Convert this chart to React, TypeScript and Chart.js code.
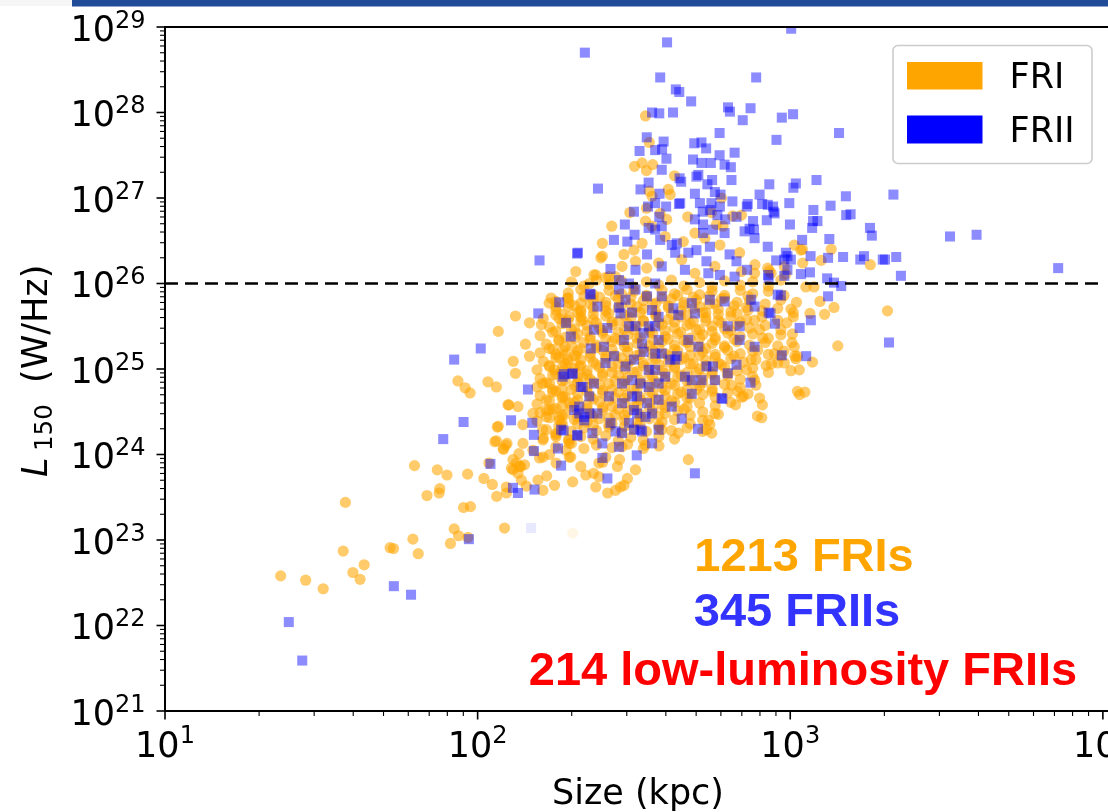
import React, { useEffect, useRef } from "react";
import { Chart, registerables } from "chart.js";

Chart.register(...registerables);

const WIDTH = 1108;
const HEIGHT = 812;

const xTickExponents = [1, 2, 3, 4];
const yTickExponents = [21, 22, 23, 24, 25, 26, 27, 28, 29];
const xAxisTitle = "Size (kpc)";
const yAxisTitleMain = "L";
const yAxisTitleSub = "150";
const yAxisTitleUnit = "(W/Hz)";
const legendLabels = ["FRI", "FRII"];
const countLabels = ["1213 FRIs", "345 FRIIs", "214 low-luminosity FRIIs"];
const thresholdL = 1e26;

// all points: [log10(size / kpc), log10(L150 / W Hz^-1)]
const friTailLog: [number, number][] = [
  [1.577,23.44],[1.370,22.58],[1.450,22.53],[1.506,22.43],[1.570,22.87],[1.601,22.62],[1.624,22.54],[1.637,22.71],
  [1.720,22.91],[1.731,22.90],[1.793,23.01],[1.810,22.84],[1.798,23.87],[1.871,23.82],[1.902,23.76],[1.838,23.52],
  [1.879,23.60],[1.877,23.55],[1.968,23.77],[1.955,23.38],[1.977,23.39],[1.925,23.13],[1.939,23.05],[1.913,22.96],
  [1.969,23.03],[2.086,23.14],[2.020,23.72],[2.047,23.65],[2.061,23.51],[2.092,23.62],[2.092,23.55],[2.113,23.82],
  [2.138,23.86],[2.108,23.84],[2.156,23.63],[2.193,23.70],[2.209,23.58],[2.221,23.75],[2.246,23.64],[2.036,23.90],
  [2.082,24.07],[2.094,24.13],[2.055,24.15],[2.063,24.32],[2.132,24.01],[2.145,24.13],[2.113,23.94],[2.134,23.86],
  [2.100,24.58],[2.129,24.56],[2.145,24.35],[2.177,24.48],[2.219,24.52],[2.209,24.17],[2.230,24.00],[2.198,23.96],
  [2.251,24.25],[2.283,24.05],[2.298,23.97],[2.261,24.40],[2.293,24.17],
  [1.937,24.86],[1.960,24.78],[1.976,24.72],[2.033,24.85],[2.060,24.79],[2.097,24.58],[2.066,24.33],[2.060,24.16],
  [2.090,24.11],[2.083,24.06],[2.129,23.78],[2.150,23.88],[2.124,23.90],[2.140,23.70],
  [2.121,25.62],[2.166,25.54],[2.204,25.52],[2.066,25.44],[2.153,25.29],[2.166,25.15],[2.114,25.09],[2.121,24.95],
  [2.208,24.83],[2.240,24.76],[2.272,24.68],[2.293,24.60],[2.229,24.52],[2.261,24.44],[2.208,24.29],[2.251,24.21],
  [2.293,24.13],[2.177,24.05],[2.209,23.97],[2.251,23.90],[2.293,23.97],[2.229,25.77],[2.293,25.77],[2.330,25.69],
  [2.293,25.61],[2.261,25.59],[2.336,25.57],[2.378,26.10],[2.357,26.00],[2.394,26.30],[2.420,26.08],[2.251,25.17],
  [2.272,25.22],[2.288,25.11],[2.245,24.99],[2.272,25.03],[2.314,25.15],[2.325,25.03],[2.336,24.91],[2.235,25.83],
  [2.251,25.73],[2.288,25.83],
];

const friUpperLog: [number, number][] = [
  [2.537,27.96],[2.549,27.65],[2.502,27.37],[2.526,27.41],[2.540,27.32],[2.560,27.39],[2.630,27.26],[2.610,27.10],
  [2.616,27.04],[2.549,27.08],[2.558,27.02],[2.487,26.83],[2.540,26.88],[2.537,26.73],[2.584,26.82],[2.429,26.67],
  [2.672,26.78],[2.780,27.00],[2.748,26.83],[2.816,26.79],[2.844,26.80],[2.785,26.67],[2.605,26.75],
  [2.399,26.47],[2.399,26.32],[2.468,26.34],[2.500,26.39],[2.526,26.47],[2.600,26.55],[2.558,26.67],[2.727,26.53],
  [2.764,26.69],[2.838,26.36],[2.775,26.45],[2.695,26.59],[2.658,26.49],[2.541,26.18],[2.505,26.26],[2.462,26.20],
  [2.441,26.08],[2.372,26.10],[2.409,26.07],[2.314,26.14],[2.579,26.24],[2.653,26.28],[2.695,26.12],[2.759,26.20],
  [2.844,26.14],[2.887,26.22],[2.928,26.18],[2.939,26.12],[3.013,26.45],[3.034,26.39],[2.981,26.20],
];

const friRightLog: [number, number][] = [
  [3.039,26.40],[3.131,26.40],[3.099,26.27],[3.040,26.24],[3.256,26.22],[2.886,26.12],[2.933,26.15],[2.986,26.11],
  [3.050,25.96],[3.076,25.96],[3.095,25.79],[3.140,25.72],[3.110,25.64],[3.063,25.65],[3.002,25.70],[3.311,25.68],
  [2.989,25.54],[3.007,25.41],[3.005,25.31],[3.152,25.27],[2.949,25.18],[2.960,25.07],[2.923,25.04],[3.015,25.15],
  [3.018,25.12],[3.071,25.08],[3.029,24.99],[3.002,24.98],[3.030,24.70],[3.047,24.73],[2.902,24.66],[2.865,25.85],
  [2.865,25.69],[2.886,25.57],[2.902,25.46],[2.912,25.36],[2.896,25.22],[2.875,25.11],[2.860,24.99],[2.886,24.87],
  [2.911,24.58],[2.825,24.58],[2.895,24.45],[2.743,24.35],[2.749,24.25],[2.832,24.74],[2.457,23.62],[2.416,23.55],
  [2.479,23.72],[2.400,23.91],[2.371,23.78],[2.454,23.94],[2.505,23.82],[2.674,23.94],[2.388,23.90],[2.330,23.86],
  [2.388,23.74],[2.447,23.86],[2.468,23.64],[2.378,23.62],[2.441,23.58],[2.304,23.68],[2.346,23.76],[2.909,24.43],
  [2.865,24.71],[2.844,24.67],[2.812,24.81],[2.759,24.48],[2.738,24.40],[2.732,24.29],[2.642,24.25],[2.589,24.29],
  [2.536,24.11],[2.462,24.09],[2.410,23.97],[3.023,25.15],[3.013,25.26],[2.970,25.15],[2.981,25.07],[3.023,24.74],
];

const friCoreLog: [number, number][] = [
  [2.30,26.02],[2.34,25.97],[2.38,26.04],[2.42,25.99],[2.46,26.03],[2.50,25.96],[2.54,26.02],[2.58,25.98],[2.62,26.04],[2.66,25.97],[2.71,26.01],[2.75,25.96],[2.79,26.03],[2.84,25.98],[2.88,26.02],[2.93,25.97],[2.97,26.04],
  [2.29,25.89],[2.33,25.93],[2.37,25.87],[2.42,25.92],[2.46,25.88],[2.50,25.91],[2.54,25.86],[2.59,25.92],[2.63,25.88],[2.67,25.93],[2.71,25.87],[2.75,25.91],[2.79,25.86],[2.84,25.92],[2.88,25.88],[2.93,25.91],[2.98,25.86],
  [2.25,25.79],[2.29,25.83],[2.33,25.77],[2.37,25.81],[2.41,25.78],[2.45,25.82],[2.49,25.76],[2.53,25.80],[2.57,25.77],[2.62,25.82],[2.66,25.78],[2.70,25.81],[2.74,25.76],[2.78,25.82],[2.83,25.78],[2.87,25.80],[2.92,25.76],[2.97,25.81],[3.02,25.78],
  [2.25,25.69],[2.29,25.73],[2.33,25.67],[2.37,25.71],[2.41,25.68],[2.45,25.72],[2.49,25.66],[2.53,25.70],[2.57,25.67],[2.61,25.72],[2.65,25.68],[2.69,25.71],[2.73,25.66],[2.77,25.70],[2.81,25.67],[2.86,25.72],[2.91,25.68],[2.96,25.71],[3.01,25.66],
  [2.21,25.59],[2.25,25.63],[2.29,25.57],[2.33,25.61],[2.37,25.58],[2.41,25.62],[2.45,25.56],[2.49,25.60],[2.53,25.57],[2.57,25.62],[2.61,25.58],[2.65,25.61],[2.69,25.56],[2.73,25.60],[2.77,25.57],[2.81,25.62],[2.86,25.58],[2.91,25.61],[2.96,25.57],[3.01,25.61],
  [2.23,25.49],[2.27,25.53],[2.31,25.47],[2.35,25.51],[2.39,25.48],[2.43,25.52],[2.47,25.46],[2.51,25.50],[2.55,25.47],[2.59,25.52],[2.63,25.48],[2.67,25.51],[2.71,25.46],[2.75,25.50],[2.79,25.47],[2.83,25.52],[2.87,25.48],[2.92,25.51],[2.97,25.46],
  [2.20,25.39],[2.24,25.43],[2.28,25.37],[2.32,25.41],[2.36,25.38],[2.40,25.42],[2.44,25.36],[2.48,25.40],[2.52,25.37],[2.56,25.42],[2.60,25.38],[2.64,25.41],[2.68,25.36],[2.72,25.40],[2.76,25.37],[2.80,25.42],[2.84,25.38],[2.88,25.41],[2.93,25.36],[2.97,25.40],
  [2.22,25.29],[2.26,25.33],[2.30,25.27],[2.34,25.31],[2.38,25.28],[2.43,25.32],[2.47,25.26],[2.51,25.30],[2.55,25.27],[2.59,25.32],[2.63,25.28],[2.67,25.31],[2.71,25.26],[2.75,25.30],[2.79,25.27],[2.83,25.32],[2.87,25.28],[2.92,25.31],[2.96,25.27],
  [2.20,25.19],[2.24,25.23],[2.28,25.17],[2.32,25.21],[2.36,25.18],[2.40,25.22],[2.44,25.16],[2.48,25.20],[2.52,25.17],[2.56,25.22],[2.60,25.18],[2.64,25.21],[2.68,25.16],[2.72,25.20],[2.76,25.17],[2.80,25.22],[2.84,25.18],[2.88,25.21],[2.93,25.17],[2.98,25.21],
  [2.21,25.09],[2.25,25.13],[2.29,25.07],[2.33,25.11],[2.37,25.08],[2.41,25.12],[2.45,25.06],[2.49,25.10],[2.53,25.07],[2.57,25.12],[2.61,25.08],[2.65,25.11],[2.69,25.06],[2.73,25.10],[2.77,25.07],[2.81,25.12],[2.85,25.08],[2.89,25.11],[2.94,25.06],
  [2.19,24.99],[2.23,25.03],[2.27,24.97],[2.31,25.01],[2.35,24.98],[2.39,25.02],[2.43,24.96],[2.47,25.00],[2.51,24.97],[2.55,25.02],[2.59,24.98],[2.63,25.01],[2.67,24.96],[2.71,25.00],[2.75,24.97],[2.79,25.02],[2.83,24.98],[2.88,25.01],[2.93,24.96],
  [2.20,24.89],[2.24,24.93],[2.28,24.87],[2.32,24.91],[2.36,24.88],[2.40,24.92],[2.44,24.86],[2.48,24.90],[2.52,24.87],[2.56,24.92],[2.60,24.88],[2.64,24.91],[2.68,24.86],[2.72,24.90],[2.76,24.87],[2.80,24.92],[2.84,24.88],[2.88,24.91],
  [2.19,24.79],[2.23,24.83],[2.27,24.77],[2.31,24.81],[2.35,24.78],[2.39,24.82],[2.43,24.76],[2.47,24.80],[2.51,24.77],[2.55,24.82],[2.59,24.78],[2.63,24.81],[2.67,24.76],[2.71,24.80],[2.75,24.77],[2.79,24.82],[2.84,24.78],[2.89,24.81],
  [2.20,24.69],[2.24,24.73],[2.28,24.67],[2.32,24.71],[2.36,24.68],[2.40,24.72],[2.44,24.66],[2.48,24.70],[2.52,24.67],[2.56,24.72],[2.60,24.68],[2.64,24.71],[2.68,24.66],[2.72,24.70],[2.76,24.67],[2.80,24.72],[2.85,24.68],
  [2.19,24.59],[2.23,24.63],[2.27,24.57],[2.31,24.61],[2.35,24.58],[2.39,24.62],[2.43,24.56],[2.47,24.60],[2.51,24.57],[2.55,24.62],[2.59,24.58],[2.63,24.61],[2.67,24.56],[2.71,24.60],[2.76,24.57],[2.81,24.61],
  [2.20,24.49],[2.24,24.53],[2.28,24.47],[2.32,24.51],[2.36,24.48],[2.40,24.52],[2.44,24.46],[2.48,24.50],[2.52,24.47],[2.56,24.52],[2.60,24.48],[2.64,24.51],[2.68,24.46],[2.72,24.50],[2.77,24.47],
  [2.19,24.39],[2.23,24.43],[2.27,24.37],[2.31,24.41],[2.35,24.38],[2.39,24.42],[2.43,24.36],[2.47,24.40],[2.51,24.37],[2.55,24.42],[2.59,24.38],[2.63,24.41],[2.68,24.36],[2.72,24.40],
  [2.22,24.29],[2.26,24.33],[2.30,24.27],[2.34,24.31],[2.38,24.28],[2.42,24.32],[2.46,24.26],[2.50,24.30],[2.54,24.27],[2.58,24.32],[2.62,24.28],[2.67,24.31],[2.72,24.27],
  [2.21,24.19],[2.25,24.23],[2.29,24.17],[2.33,24.21],[2.37,24.18],[2.41,24.22],[2.45,24.16],[2.49,24.20],[2.53,24.17],[2.58,24.21],[2.63,24.18],
  [2.25,24.09],[2.30,24.13],[2.34,24.07],[2.38,24.11],[2.43,24.08],[2.48,24.12],[2.53,24.07],[2.58,24.10],
];

const friDenseLog: [number, number][] = [
  [2.34,25.85],[2.39,25.84],[2.44,25.86],[2.49,25.84],[2.54,25.85],[2.59,25.83],[2.64,25.86],[2.69,25.84],[2.74,25.85],[2.79,25.83],
  [2.31,25.74],[2.36,25.76],[2.41,25.74],[2.46,25.75],[2.51,25.73],[2.56,25.76],[2.61,25.74],[2.66,25.75],[2.71,25.73],[2.76,25.76],[2.82,25.74],
  [2.27,25.64],[2.32,25.66],[2.37,25.64],[2.42,25.65],[2.47,25.63],[2.52,25.66],[2.57,25.64],[2.62,25.65],[2.67,25.63],[2.72,25.66],[2.77,25.64],[2.83,25.65],
  [2.28,25.54],[2.33,25.56],[2.38,25.54],[2.43,25.55],[2.48,25.53],[2.53,25.56],[2.58,25.54],[2.63,25.55],[2.68,25.53],[2.73,25.56],[2.78,25.54],[2.84,25.55],
  [2.25,25.44],[2.30,25.46],[2.35,25.44],[2.40,25.45],[2.45,25.43],[2.50,25.46],[2.55,25.44],[2.60,25.45],[2.65,25.43],[2.70,25.46],[2.75,25.44],[2.81,25.45],
  [2.26,25.34],[2.31,25.36],[2.36,25.34],[2.41,25.35],[2.46,25.33],[2.51,25.36],[2.56,25.34],[2.61,25.35],[2.66,25.33],[2.71,25.36],[2.76,25.34],[2.82,25.35],
  [2.23,25.24],[2.28,25.26],[2.33,25.24],[2.38,25.25],[2.43,25.23],[2.48,25.26],[2.53,25.24],[2.58,25.25],[2.63,25.23],[2.68,25.26],[2.73,25.24],[2.79,25.25],
  [2.26,25.14],[2.31,25.16],[2.36,25.14],[2.41,25.15],[2.46,25.13],[2.51,25.16],[2.56,25.14],[2.61,25.15],[2.66,25.13],[2.71,25.16],[2.76,25.14],[2.82,25.15],
  [2.23,25.04],[2.28,25.06],[2.33,25.04],[2.38,25.05],[2.43,25.03],[2.48,25.06],[2.53,25.04],[2.58,25.05],[2.63,25.03],[2.68,25.06],[2.73,25.04],[2.78,25.05],
  [2.25,24.94],[2.30,24.96],[2.35,24.94],[2.40,24.95],[2.45,24.93],[2.50,24.96],[2.55,24.94],[2.60,24.95],[2.65,24.93],[2.70,24.96],[2.75,24.94],[2.80,24.95],
  [2.22,24.84],[2.27,24.86],[2.32,24.84],[2.37,24.85],[2.42,24.83],[2.47,24.86],[2.52,24.84],[2.57,24.85],[2.62,24.83],[2.67,24.86],[2.72,24.84],
  [2.25,24.74],[2.30,24.76],[2.35,24.74],[2.40,24.75],[2.45,24.73],[2.50,24.76],[2.55,24.74],[2.60,24.75],[2.65,24.73],[2.70,24.76],[2.75,24.74],
  [2.22,24.64],[2.27,24.66],[2.32,24.64],[2.37,24.65],[2.42,24.63],[2.47,24.66],[2.52,24.64],[2.57,24.65],[2.62,24.63],[2.67,24.66],
  [2.25,24.54],[2.30,24.56],[2.35,24.54],[2.40,24.55],[2.45,24.53],[2.50,24.56],[2.55,24.54],[2.60,24.55],[2.66,24.53],
  [2.22,24.44],[2.27,24.46],[2.32,24.44],[2.37,24.45],[2.42,24.43],[2.47,24.46],[2.52,24.44],[2.58,24.45],
  [2.27,24.34],[2.32,24.36],[2.37,24.34],[2.42,24.35],[2.47,24.33],[2.52,24.36],[2.58,24.34],
];

const friiOuterLog: [number, number][] = [
  [2.343,28.70],[2.606,28.82],[3.003,28.98],[2.584,28.41],[2.891,28.41],[2.634,28.27],[2.645,28.24],[2.683,28.13],
  [2.558,28.00],[2.581,27.99],[2.625,28.00],[2.801,28.06],[2.807,28.01],[2.873,28.05],[2.848,27.91],[2.973,27.94],
  [3.009,27.98],[2.956,27.68],[2.774,27.76],[2.541,27.71],[2.595,27.66],[2.693,27.64],[2.716,27.65],[2.731,27.58],
  [2.518,27.55],[2.568,27.56],[2.590,27.57],[2.604,27.46],[2.774,27.50],[2.822,27.53],[2.689,27.45],[2.716,27.41],
  [2.746,27.41],[2.790,27.39],[2.810,27.36],[2.589,27.33],[2.385,27.11],[2.700,27.25],[2.706,27.27],[2.646,27.23],
  [2.651,27.19],[2.750,27.21],[2.735,27.16],[2.812,27.21],[2.933,27.16],[3.018,27.17],[3.084,27.21],[2.521,27.10],
  [2.547,27.18],[2.695,27.05],[2.759,27.07],[2.777,27.04],[2.582,27.05],[2.815,26.96],[2.902,27.04],[2.928,26.92],
  [2.945,26.90],[2.997,26.94],[3.074,26.86],[3.129,26.91],[2.500,26.84],[2.471,26.69],[2.648,26.94],[2.711,26.94],
  [2.720,26.84],[2.743,26.86],[2.775,26.90],[2.767,26.80],[2.864,26.93],[2.861,26.90],[2.910,26.93],[2.947,26.84],
  [2.603,26.90],[3.073,26.73],[3.087,26.73],[2.881,26.73],[2.925,26.74],[2.999,26.69],[3.156,27.76],[3.511,26.55],
  [3.010,27.12],[2.950,26.82],[3.178,27.02],[3.330,27.04],[3.179,26.80],[3.193,26.81],[3.070,26.65],[2.870,26.64],
  [3.255,26.65],[3.261,26.56],[3.596,26.57],[3.125,26.52],[3.038,26.51],[2.928,26.43],[2.986,26.36],[2.991,26.32],
  [3.002,26.28],[2.981,26.28],[2.955,26.27],[3.065,26.32],[3.121,26.30],[3.169,26.31],[3.224,26.28],[3.236,26.32],
  [3.296,26.28],[3.303,26.28],[3.339,26.31],[3.857,26.18],[3.354,26.09],[3.034,26.11],[3.063,26.13],[2.931,26.06],
  [2.929,26.10],[2.981,26.09],[2.991,26.16],[3.118,26.06],[3.140,26.01],[3.163,25.97],[3.121,25.85],[2.960,25.87],
  [2.970,25.86],[2.931,25.66],[2.937,25.65],[2.951,25.53],[3.030,25.48],[3.066,25.57],[3.316,25.31],[2.886,25.26],
  [2.973,25.16],[3.051,25.15],[2.873,24.84],
  [2.695,23.78],[2.415,23.72],[2.509,23.99],[2.267,23.87],[2.705,24.30],[2.783,24.65],[2.558,24.13],
  [1.955,24.38],[1.890,24.18],[2.107,24.40],[2.041,23.89],[2.175,24.37],[2.180,24.23],[2.180,24.04],[2.275,24.28],
  [2.257,24.07],[2.113,23.61],[2.129,23.55],[2.182,23.59],[1.972,23.01],[1.732,22.46],[1.787,22.36],[1.396,22.04],
  [1.439,21.59],
  [2.198,26.27],[2.318,26.35],[2.261,25.78],[2.359,25.88],[2.194,25.65],[2.010,25.24],[1.925,25.11],[2.161,24.76],
  [2.319,24.22],[2.276,24.94],[2.303,24.94],[2.336,24.79],[2.325,24.56],[2.341,24.44],[2.357,24.48],[2.383,24.48],
  [2.367,24.25],[2.399,24.13],
];

const friiCoreLog: [number, number][] = [
  [2.545,26.90],[2.581,26.78],[2.568,26.94],[2.644,26.93],[2.748,26.94],[2.547,26.65],[2.568,26.63],[2.589,26.67],
  [2.584,26.51],[2.542,26.34],[2.479,26.49],[2.436,26.51],[2.321,26.36],[2.425,26.17],[2.452,26.04],[2.505,26.16],
  [2.589,26.20],[2.621,26.45],[2.637,26.47],[2.632,26.36],[2.674,26.36],[2.663,26.16],[2.700,26.39],[2.721,26.59],
  [2.753,26.63],[2.743,26.43],[2.790,26.59],[2.732,26.26],[2.738,26.12],[2.775,26.10],[2.806,26.34],[2.828,26.26],
  [2.822,26.08],[2.862,26.16],[2.886,26.53],[2.884,26.63],[2.854,26.61],[2.828,26.78],[2.792,26.75],[2.695,26.75],
  [2.721,26.69],[2.502,26.57],
  [2.362,25.87],[2.383,25.73],[2.452,25.93],[2.473,25.81],[2.505,25.93],[2.542,25.85],[2.558,25.69],[2.589,25.85],
  [2.626,25.71],[2.642,25.63],[2.685,25.77],[2.695,25.65],[2.743,25.81],[2.790,25.79],[2.800,25.50],[2.838,25.50],
  [2.875,25.81],[2.886,25.73],[2.283,25.54],[2.298,25.38],[2.372,25.46],[2.415,25.48],[2.457,25.65],[2.468,25.34],
  [2.505,25.50],[2.531,25.42],[2.526,25.30],[2.568,25.50],[2.579,25.34],[2.531,25.20],[2.568,25.18],[2.589,25.18],
  [2.616,25.11],[2.632,25.11],[2.674,25.34],[2.706,25.26],[2.685,24.87],[2.716,24.87],[2.753,25.03],[2.759,24.87],
  [2.800,24.95],[2.828,25.05],[2.838,25.34],[2.404,25.26],[2.409,25.07],[2.436,25.15],[2.473,25.03],[2.500,25.11],
  [2.547,24.99],[2.462,24.83],[2.494,24.87],[2.521,24.83],[2.568,24.99],[2.579,24.83],[2.600,24.91],[2.637,25.15],
  [2.663,24.91],[2.732,25.03],[2.780,24.66],[2.272,24.91],[2.304,24.95],[2.330,24.79],[2.357,24.68],[2.372,24.83],
  [2.420,24.68],[2.425,24.37],[2.462,24.60],[2.510,24.68],[2.510,24.48],[2.542,24.60],[2.558,24.48],[2.579,24.64],
  [2.621,24.56],[2.653,24.42],[2.309,24.52],[2.325,24.48],[2.341,24.40],[2.267,24.29],[2.319,24.23],[2.462,24.25],
  [2.500,24.29],[2.521,24.29],[2.579,24.29],[2.685,24.71],
  [2.362,25.24],[2.452,25.72],[2.494,25.66],[2.484,25.50],[2.547,25.50],[2.484,26.00],[2.568,26.00],[2.579,25.61],
  [2.547,24.79],[2.494,24.68],[2.500,24.52],[2.484,24.37],[2.537,24.44],[2.526,24.27],[2.441,24.27],[2.399,23.96],
  [2.452,24.09],
];

const faintFriLog: [number, number][] = [[2.304, 23.08]];
const faintFriiLog: [number, number][] = [[2.171, 23.14]];

const toXY = (arr: [number, number][]) => arr.map(([a, b]) => ({ x: Math.pow(10, a), y: Math.pow(10, b) }));

const TICK_FONT = "'DejaVu Sans', sans-serif";

const decorPlugin = {
  id: "decor",
  beforeDraw(chart: any) {
    const ctx = chart.ctx;
    ctx.save();
    ctx.fillStyle = "#ffffff";
    ctx.fillRect(0, 0, WIDTH, HEIGHT);
    ctx.fillStyle = "#f6f6f6";
    ctx.fillRect(0, 0, 72, 6);
    ctx.fillStyle = "#1f4b99";
    ctx.fillRect(72, 0, WIDTH - 72, 6.5);
    ctx.restore();
  },
  afterDraw(chart: any) {
    const ctx = chart.ctx;
    const a = chart.chartArea;
    const xs = chart.scales.x;
    const ys = chart.scales.y;
    ctx.save();
    ctx.strokeStyle = "#000";
    ctx.fillStyle = "#000";

    ctx.lineWidth = 2;
    ctx.beginPath();
    ctx.moveTo(a.left, a.top);
    ctx.lineTo(a.left, a.bottom);
    ctx.moveTo(a.left - 1, a.top);
    ctx.lineTo(WIDTH, a.top);
    ctx.moveTo(a.left - 1, a.bottom);
    ctx.lineTo(WIDTH, a.bottom);
    ctx.stroke();

    for (const e of yTickExponents) {
      const py = ys.getPixelForValue(Math.pow(10, e));
      ctx.lineWidth = 1.6;
      ctx.beginPath();
      ctx.moveTo(a.left + 1, py);
      ctx.lineTo(a.left - 8.5, py);
      ctx.stroke();
      if (e < 29) {
        ctx.lineWidth = 1.1;
        for (let k = 2; k <= 9; k++) {
          const pm = ys.getPixelForValue(k * Math.pow(10, e));
          ctx.beginPath();
          ctx.moveTo(a.left, pm);
          ctx.lineTo(a.left - 5, pm);
          ctx.stroke();
        }
      }
      ctx.textAlign = "left";
      ctx.textBaseline = "alphabetic";
      ctx.font = `24px ${TICK_FONT}`;
      const es = String(e);
      const we = ctx.measureText(es).width;
      ctx.fillText(es, 145.5 - we, py + 0.5);
      ctx.font = `35px ${TICK_FONT}`;
      const wb = ctx.measureText("10").width;
      ctx.fillText("10", 145.5 - we - wb, py + 13.5);
    }

    for (const e of xTickExponents) {
      const px = xs.getPixelForValue(Math.pow(10, e));
      ctx.lineWidth = 1.6;
      ctx.beginPath();
      ctx.moveTo(px, a.bottom - 1);
      ctx.lineTo(px, a.bottom + 8.5);
      ctx.stroke();
      if (e < 4) {
        ctx.lineWidth = 1.1;
        for (let k = 2; k <= 9; k++) {
          const pm = xs.getPixelForValue(k * Math.pow(10, e));
          ctx.beginPath();
          ctx.moveTo(pm, a.bottom);
          ctx.lineTo(pm, a.bottom + 5);
          ctx.stroke();
        }
      }
      ctx.textAlign = "left";
      ctx.font = `35px ${TICK_FONT}`;
      const wb = ctx.measureText("10").width;
      ctx.font = `24px ${TICK_FONT}`;
      const es = String(e);
      const we = ctx.measureText(es).width;
      const start = px - (wb + we) / 2;
      ctx.font = `35px ${TICK_FONT}`;
      ctx.fillText("10", start, 757);
      ctx.font = `24px ${TICK_FONT}`;
      ctx.fillText(es, start + wb, 743);
    }

    ctx.font = `35px ${TICK_FONT}`;
    ctx.textAlign = "center";
    ctx.fillText(xAxisTitle, 638, 804);

    ctx.save();
    ctx.translate(46.7, 477);
    ctx.rotate(-Math.PI / 2);
    ctx.textAlign = "left";
    ctx.font = `italic 35px ${TICK_FONT}`;
    ctx.fillText(yAxisTitleMain, 0, 0);
    ctx.font = `24.5px ${TICK_FONT}`;
    ctx.fillText(yAxisTitleSub, 26, 5.5);
    ctx.font = `35px ${TICK_FONT}`;
    ctx.fillText(yAxisTitleUnit, 94, 0);
    ctx.restore();

    ctx.beginPath();
    if (ctx.roundRect) ctx.roundRect(893, 45.5, 199, 118, 5);
    else ctx.rect(893, 45.5, 199, 118);
    ctx.fillStyle = "rgba(255,255,255,0.85)";
    ctx.fill();
    ctx.lineWidth = 1.6;
    ctx.strokeStyle = "#cccccc";
    ctx.stroke();
    ctx.fillStyle = "#ffa500";
    ctx.fillRect(907, 62, 75.5, 27.5);
    ctx.fillStyle = "#0000ff";
    ctx.fillRect(907, 115.5, 75.5, 28);
    ctx.fillStyle = "#000";
    ctx.textAlign = "left";
    ctx.font = `35px ${TICK_FONT}`;
    ctx.fillText(legendLabels[0], 1009.5, 88.3);
    ctx.fillText(legendLabels[1], 1009.5, 142);

    ctx.textAlign = "center";
    ctx.font = "bold 47px 'Liberation Sans', Arial, sans-serif";
    ctx.fillStyle = "#ffa500";
    ctx.fillText(countLabels[0], 804, 571);
    ctx.fillStyle = "#3333ff";
    ctx.fillText(countLabels[1], 797, 626);
    ctx.fillStyle = "#ff0000";
    ctx.fillText(countLabels[2], 803, 685);

    ctx.restore();
  },
};

export default function App() {
  const ref = useRef<HTMLCanvasElement | null>(null);
  useEffect(() => {
    document.body.style.margin = "0";
    const canvas = ref.current;
    if (!canvas) return;
    const fri = [...friTailLog, ...friUpperLog, ...friRightLog, ...friCoreLog, ...friDenseLog];
    const frii = [...friiOuterLog, ...friiCoreLog];
    const chart = new Chart(canvas, {
      type: "scatter",
      data: {
        datasets: [
          {
            label: "threshold",
            type: "line",
            data: [
              { x: 10, y: thresholdL },
              { x: 10000, y: thresholdL },
            ],
            borderColor: "#000000",
            borderWidth: 2.3,
            borderDash: [13, 7],
            pointRadius: 0,
            fill: false,
            order: 0,
          } as any,
          {
            label: legendLabels[1],
            data: toXY(frii),
            backgroundColor: "rgba(0,0,255,0.45)",
            pointStyle: "rect",
            pointRadius: 7.1,
            pointBorderWidth: 0,
            borderWidth: 0,
            order: 1,
          },
          {
            label: legendLabels[0],
            data: toXY(fri),
            backgroundColor: "rgba(255,165,0,0.58)",
            pointStyle: "circle",
            pointRadius: 5.6,
            pointBorderWidth: 0,
            borderWidth: 0,
            order: 2,
          },
          {
            label: "faint FRII",
            data: toXY(faintFriiLog),
            backgroundColor: "rgba(0,0,255,0.09)",
            pointStyle: "rect",
            pointRadius: 7.1,
            pointBorderWidth: 0,
            borderWidth: 0,
            order: 3,
          },
          {
            label: "faint FRI",
            data: toXY(faintFriLog),
            backgroundColor: "rgba(255,165,0,0.1)",
            pointStyle: "circle",
            pointRadius: 5.6,
            pointBorderWidth: 0,
            borderWidth: 0,
            order: 4,
          },
        ],
      },
      options: {
        animation: false,
        responsive: false,
        devicePixelRatio: 1,
        events: [],
        layout: { padding: { left: 165, top: 27, right: 0, bottom: 101 } },
        scales: {
          x: { type: "logarithmic", min: 10, max: Math.pow(10, 3.9937), display: false },
          y: { type: "logarithmic", min: 1e21, max: 1e29, display: false },
        },
        plugins: { legend: { display: false }, tooltip: { enabled: false } },
      },
      plugins: [decorPlugin],
    } as any);
    return () => chart.destroy();
  }, []);
  return <canvas ref={ref} width={WIDTH} height={HEIGHT} style={{ display: "block", width: WIDTH, height: HEIGHT }} />;
}
